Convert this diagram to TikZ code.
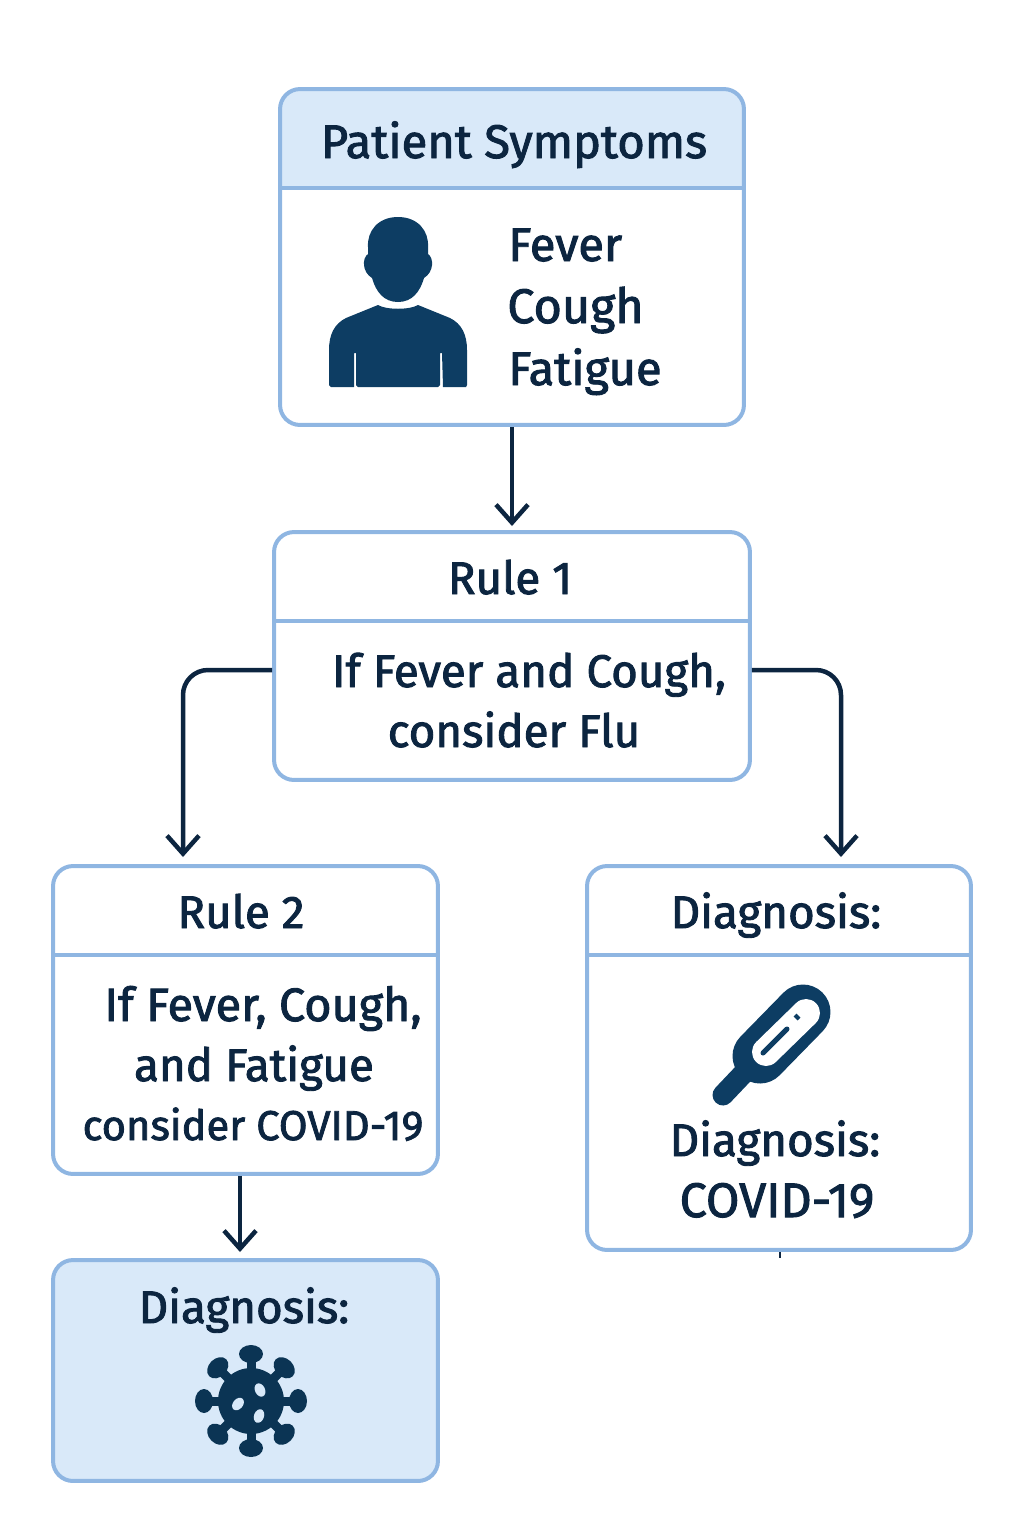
\documentclass[tikz,border=0pt]{standalone}
\usepackage{fontspec}
\setmainfont{Fira Sans}[FakeBold=2]
\usetikzlibrary{arrows.meta}
\definecolor{edgeblue}{HTML}{8FB6E2}
\definecolor{paleblue}{HTML}{D9E9F9}
\definecolor{inkblue}{HTML}{0C2540}
\definecolor{iconblue}{HTML}{0D3D63}
\tikzset{
  boxnode/.style={draw=edgeblue, line width=.08cm, rounded corners=.4cm, inner sep=0pt},
  rulerline/.style={draw=edgeblue, line width=.08cm},
  headfill/.style={fill=paleblue, rounded corners=.4cm},
  txt/.style={font=\fontsize{26}{30}\selectfont, text=inkblue, anchor=base, inner sep=0pt},
  bigtxt/.style={txt, font=\fontsize{26.8}{30}\selectfont},
  link/.style={draw=inkblue, line width=.09cm, rounded corners=.5cm, -{Straight Barb[length=.36cm,width=.64cm,line width=.09cm]}}
}
\begin{document}
\begin{tikzpicture}[x=.02cm,y=-.02cm]
\useasboundingbox (0,0) rectangle (1024,1536);
% tinted parts
\fill[headfill] (280,188) -- (280,89) -- (744,89) -- (744,188);
\fill[headfill] (53,1260) rectangle (438,1481);
% boxes
\node[boxnode, minimum width=9.28cm, minimum height=6.72cm] (symptoms) at (512,257) {};
\node[boxnode, minimum width=9.52cm, minimum height=4.96cm] (ruleone) at (512,656) {};
\node[boxnode, minimum width=7.7cm, minimum height=6.16cm] (ruletwo) at (245.5,1020) {};
\node[boxnode, minimum width=7.68cm, minimum height=7.68cm] (diagflu) at (779,1058) {};
\node[boxnode, minimum width=7.7cm, minimum height=4.42cm] (diagcovid) at (245.5,1370.5) {};
\draw[rulerline] (symptoms.west |- 0,188) -- (symptoms.east |- 0,188);
\draw[rulerline] (ruleone.west |- 0,621) -- (ruleone.east |- 0,621);
\draw[rulerline] (ruletwo.west |- 0,955) -- (ruletwo.east |- 0,955);
\draw[rulerline] (diagflu.west |- 0,955) -- (diagflu.east |- 0,955);
% texts
\node[bigtxt] (symptomstitle) at (514,158) {Patient Symptoms};
\node[bigtxt, anchor=base west] (fever) at (508,261) {Fever};
\node[bigtxt, anchor=base west, font=\fontsize{27.6}{30}\selectfont] (cough) at (507,323) {Cough};
\node[bigtxt, anchor=base west] (fatigue) at (508,385) {Fatigue};
\node[txt] (ruleonetitle) at (510,594) {Rule 1};
\node[txt] (ruleonea) at (529,687) {If Fever and Cough,};
\node[txt] (ruleoneb) at (514,747) {consider Flu};
\node[txt] (ruletwotitle) at (241,928) {Rule 2};
\node[txt, font=\fontsize{26.6}{30}\selectfont] (ruletwoa) at (263,1021) {If Fever, Cough,};
\node[txt] (ruletwob) at (254,1081) {and Fatigue};
\node[txt, font=\fontsize{23.7}{28}\selectfont] (ruletwoc) at (253,1140) {consider COVID-19};
\node[txt] (diagflutitle) at (776,928) {Diagnosis:};
\node[txt] (diagflua) at (775,1156) {Diagnosis:};
\node[txt, font=\fontsize{27.6}{30}\selectfont] (diagflub) at (777,1217) {COVID-19};
\node[txt] (diagcovidtitle) at (244,1323) {Diagnosis:};
% connectors
\coordinate (ruleonetop) at (512,526);
\coordinate (ruletwotop) at (183,857);
\coordinate (diagflutop) at (841,857);
\coordinate (diagcovidtop) at (240,1252);
\draw[link] (symptoms.south) -- (ruleonetop);
\draw[link] (ruleone.west |- 0,670) -| (ruletwotop);
\draw[link] (ruleone.east |- 0,670) -| (diagflutop);
\draw[link] (ruletwo.south -| diagcovidtop) -- (diagcovidtop);
\draw[inkblue, line width=.04cm] (diagflu.south -| 779.5,0) -- (779.5,1258);
% person
\fill[iconblue] (398,217) .. controls (378,217) and (367,231) .. (368,247)
  -- (368,254) .. controls (362,258) and (362,272) .. (372,278)
  .. controls (376,292) and (384,302) .. (398,302)
  .. controls (412,302) and (420,292) .. (424,278)
  .. controls (434,272) and (434,258) .. (428,254)
  -- (428,247) .. controls (429,231) and (418,217) .. (398,217) -- cycle;
\fill[iconblue] (378,305) .. controls (386,310) and (410,310) .. (418,305)
  -- (450,318) .. controls (462,324) and (467,335) .. (467,350)
  -- (467,385) -- (466,387) -- (443,387) -- (442,353) -- (440,353) -- (440,385) -- (438,387)
  -- (358,387) -- (356,385) -- (356,353) -- (354,353) -- (354,387) -- (331,387) -- (329,385)
  -- (329,350) .. controls (329,335) and (334,324) .. (346,318) -- cycle;
% thermometer
\draw[iconblue, line width=.42cm, line cap=round] (723,1095) -- (760,1056);
\draw[iconblue, line width=1.1cm, line cap=round] (760,1056) -- (803,1012);
\draw[white, line width=.56cm, line cap=round] (766,1052) -- (806,1013);
\draw[iconblue, line width=.1cm, line cap=round] (763,1053) -- (787,1029);
\draw[iconblue, line width=.08cm] (795,1015) -- (799,1019);
% virus
\fill[iconblue!85!black] (251,1401) circle (33);
\foreach \ang in {0,45,...,315}{
  \begin{scope}[shift={(251,1401)}, rotate=\ang]
    \draw[iconblue!85!black, line width=.18cm] (0,30) -- (0,45);
    \fill[iconblue!85!black] (0,47) ellipse [x radius=12, y radius=9];
  \end{scope}
}
\fill[paleblue, rotate around={25:(260,1390)}] (260,1390) ellipse [x radius=5, y radius=7];
\fill[paleblue, rotate around={-40:(238,1404)}] (238,1404) ellipse [x radius=5, y radius=7];
\fill[paleblue, rotate around={-20:(259,1416)}] (259,1416) ellipse [x radius=5, y radius=7];
\end{tikzpicture}
\end{document}
